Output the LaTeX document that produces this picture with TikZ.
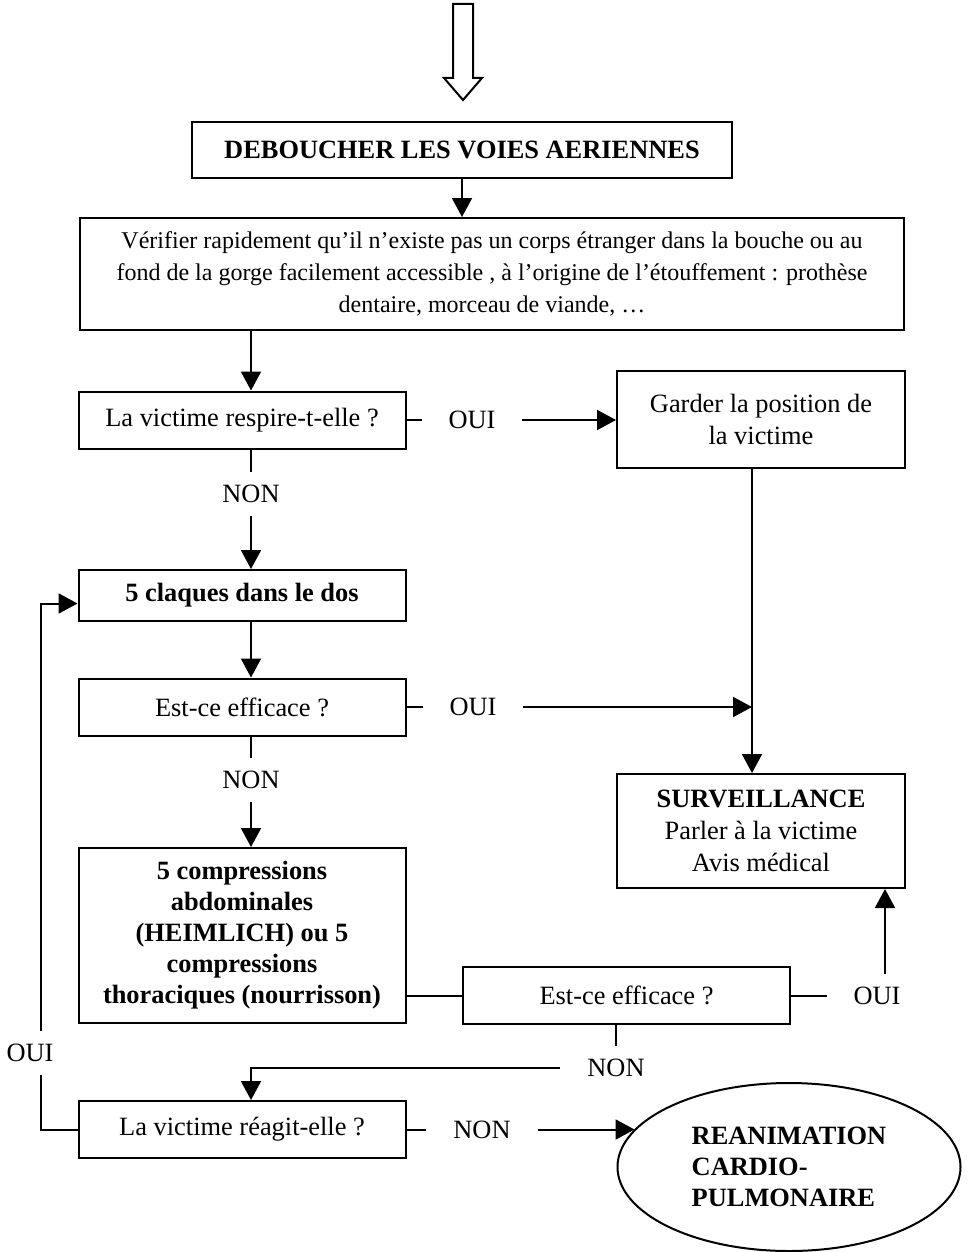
\documentclass[tikz,border=0pt]{standalone}
\usepackage{fontspec}
\setmainfont{Liberation Serif}
\usepackage{tikz}
\usetikzlibrary{arrows.meta,calc,shapes.geometric}
\newcommand{\bodysz}{\fontsize{13.2}{16}\selectfont}
\newcommand{\notesz}{\fontsize{12}{16}\selectfont}
\newcommand{\boldsz}{\fontsize{13.2}{15.5}\selectfont\bfseries}
\tikzset{
  >={Triangle[length=9.5pt,width=10pt]},
  font=\bodysz,
  block/.style={draw, line width=1pt, align=center, inner sep=3pt},
  leftblock/.style={block, minimum width=163.5pt, minimum height=28.5pt},
  rightblock/.style={block, minimum width=144pt},
  % answer labels sitting on the connectors
  lbl/.style={inner xsep=13pt, inner ysep=6pt},
}

\begin{document}
\begin{tikzpicture}[x=0.5pt, y=-0.5pt, line width=1pt]
\useasboundingbox (0,0) rectangle (969,1252);

% ---------- entry arrow ----------
\draw (453,4) -- (473,4) -- (473,78) -- (482,78) -- (463,100) -- (444,78) -- (453,78) -- cycle;

% ---------- main column ----------
\node[block, minimum width=270pt, minimum height=28pt, font=\bodysz\bfseries] (deb) at (462,150) {DEBOUCHER LES VOIES AERIENNES};
\node[block, minimum width=412pt, minimum height=56pt, font=\notesz] (verif) at (492,274)
  {Vérifier rapidement qu’il n’existe pas un corps étranger dans la bouche ou au\\
   fond de la gorge facilement accessible , à l’origine de l’étouffement : prothèse\\
   dentaire, morceau de viande, …};
\node[leftblock] (resp) at (242,420) {La victime respire-t-elle ?};
\node[leftblock, minimum height=25.5pt, font=\bodysz\bfseries] (claq) at (242,595.5) {5 claques dans le dos};
\node[leftblock] (eff1) at (242,707) {Est-ce efficace ?};
\node[leftblock, minimum height=87.5pt, font=\boldsz] (comp) at (242,935.5)
  {5 compressions\\abdominales\\(HEIMLICH) ou 5\\compressions\\thoraciques (nourrisson)};
\node[leftblock] (eff2) at (626.5,995.5) {Est-ce efficace ?};
\node[leftblock] (reag) at (242,1129.5) {La victime réagit-elle ?};

% ---------- right column ----------
\node[rightblock, minimum height=48.5pt] (gard) at (761,419) {Garder la position de\\la victime};
\node[rightblock, minimum height=57pt] (surv) at (761,831) {\textbf{SURVEILLANCE}\\Parler à la victime\\Avis médical};
\node[ellipse, draw, minimum width=171.5pt, minimum height=84pt, inner sep=0pt, align=left, font=\boldsz] (rcp) at (789,1167)
  {REANIMATION\\CARDIO-\\PULMONAIRE};

% ---------- answers ----------
\node[lbl] (oui1) at (472,420) {OUI};
\node[lbl] (non1) at (251,494) {NON};
\node[lbl] (oui2) at (473,707) {OUI};
\node[lbl] (non2) at (251,780) {NON};
\node[lbl] (oui3) at (877,995.5) {OUI};
\node[lbl] (non3) at (616,1068) {NON};
\node[lbl] (non4) at (482,1129.5) {NON};
\node[lbl] (oui4) at (30,1053) {OUI};

% ---------- connectors ----------
\draw[->] (deb.south) -- (deb.south |- verif.north);
\draw[->] (verif.south -| non1) -- (resp.north -| non1);
\draw (resp.east) -- (oui1);
\draw[->] (oui1) -- (oui1 -| gard.west);
\draw (resp.south -| non1) -- (non1);
\draw[->] (non1) -- (claq.north -| non1);
\draw[->] (claq.south -| non1) -- (eff1.north -| non1);
\draw (eff1.east) -- (oui2);
\coordinate (vline) at ([xshift=-4.5pt]gard.south);
\draw[->] (vline) -- (vline |- surv.north);
\draw[->] (oui2) -- (oui2 -| vline);
\draw (eff1.south -| non2) -- (non2);
\draw[->] (non2) -- (comp.north -| non2);
\draw (comp.east |- eff2.west) -- (eff2.west);
\draw (eff2.east) -- (oui3);
\draw[->] ([xshift=4pt]oui3.north) -- ([xshift=4pt]oui3.north |- surv.south);
\draw (eff2.south -| non3) -- (non3);
\draw[->] (non3.west) -| (reag.north -| non2);
\draw (reag.east) -- (non4);
\draw[->] (non4) -- ($(rcp.west |- non4)+(18,0)$);
% back to the back blows
\draw (reag.west) -| ([xshift=5.5pt]oui4.south);
\draw[->] ([xshift=5.5pt]oui4.north) |- ([yshift=-4pt]claq.west);

\end{tikzpicture}
\end{document}
